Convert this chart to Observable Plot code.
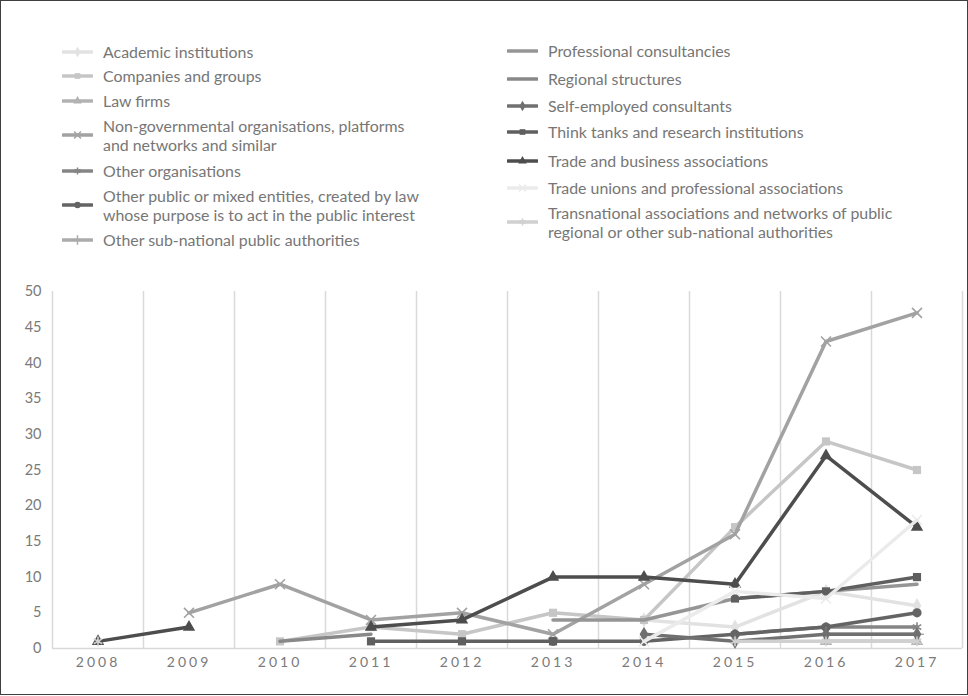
<!DOCTYPE html>
<html>
<head>
<meta charset="utf-8">
<script src="https://cdn.jsdelivr.net/npm/d3@7"></script>
<script src="https://cdn.jsdelivr.net/npm/@observablehq/plot@0.6"></script>
<style>
  html, body { margin: 0; padding: 0; background: #fff; }
  #frame { position: relative; width: 966px; height: 693px; border: 1px solid #3f3f3f; background: #fff; overflow: hidden; font-family: Lato, "Open Sans", sans-serif; }
  #legend { position: relative; height: 269px; }
  .item { position: absolute; display: flex; align-items: center; }
  .item svg { flex: none; }
  .item span { color: #767676; font-size: 15.9px; line-height: 19.5px; margin-left: 10px; white-space: nowrap; }
  #chart svg g[aria-label="x-axis tick label"] text { letter-spacing: 3px; }
</style>
</head>
<body>
<div id="frame">
  <div id="legend"></div>
  <div id="chart"></div>
</div>
<script>
// ---------- data ----------
const years = [2008, 2009, 2010, 2011, 2012, 2013, 2014, 2015, 2016, 2017];
const yTicks = [0, 5, 10, 15, 20, 25, 30, 35, 40, 45, 50];

const seriesNames = [
  "Academic institutions",
  "Companies and groups",
  "Law firms",
  "Non-governmental organisations, platforms and networks and similar",
  "Other organisations",
  "Other public or mixed entities, created by law whose purpose is to act in the public interest",
  "Other sub-national public authorities",
  "Professional consultancies",
  "Regional structures",
  "Self-employed consultants",
  "Think tanks and research institutions",
  "Trade and business associations",
  "Trade unions and professional associations",
  "Transnational associations and networks of public regional or other sub-national authorities"
];

const academic         = [null, null, null, null, null, null, 4, 3, 8, 6];
const companies        = [null, null, 1, 3, 2, 5, 4, 17, 29, 25];
const lawFirms         = [null, null, null, null, null, null, null, null, 1, 1];
const ngos             = [null, 5, 9, 4, 5, 2, 9, 16, 43, 47];
const otherOrgs        = [null, null, null, null, null, null, null, 2, 3, 3];
const otherPublic      = [null, null, null, null, null, 1, 1, 2, 3, 5];
const otherSubnational = [null, null, null, null, null, null, null, null, 2, 2];
const professional     = [null, null, null, null, null, 4, 4, 7, 8, 9];
const regional         = [null, null, 1, 2, null, null, null, null, null, null];
const selfEmployed     = [null, null, null, null, null, null, 2, 1, 2, 2];
const thinkTanks       = [null, null, null, 1, 1, 1, null, 7, 8, 10];
const tradeBusiness    = [1, 3, null, 3, 4, 10, 10, 9, 27, 17];
const tradeUnions      = [null, null, null, null, null, null, 1, 8, 7, 18];
const transnational    = [1, null, null, null, null, null, null, 1, 1, 1];

const seriesValues = [academic, companies, lawFirms, ngos, otherOrgs, otherPublic, otherSubnational,
  professional, regional, selfEmployed, thinkTanks, tradeBusiness, tradeUnions, transnational];

// ---------- styles ----------
const colors = ["#e2e2e2", "#c6c6c6", "#b2b2b2", "#a2a2a2", "#858585", "#646464", "#ababab",
  "#959595", "#888888", "#707070", "#5f5f5f", "#4d4d4d", "#ebebeb", "#d0d0d0"];
const symbols = ["diamond", "square", "triangle", "times", "asterisk", "circle", "plus",
  null, null, "diamond", "square", "triangle", "times", "asterisk"];
const strokeSymbols = new Set(["times", "plus", "asterisk"]);

// legend layout (label lines, column, vertical centre of icon/text)
const legendLabels = [
  ["Academic institutions"],
  ["Companies and groups"],
  ["Law firms"],
  ["Non-governmental organisations, platforms", "and networks and similar"],
  ["Other organisations"],
  ["Other public or mixed entities, created by law", "whose purpose is to act in the public interest"],
  ["Other sub-national public authorities"],
  ["Professional consultancies"],
  ["Regional structures"],
  ["Self-employed consultants"],
  ["Think tanks and research institutions"],
  ["Trade and business associations"],
  ["Trade unions and professional associations"],
  ["Transnational associations and networks of public", "regional or other sub-national authorities"]
];
const legendCenters = [52, 76, 101, 135, 171, 205, 240, 51, 79, 106, 132, 161, 188, 222];
const legendLeft = [62, 62, 62, 62, 62, 62, 62, 507, 507, 507, 507, 507, 507, 507];

// ---------- legend ----------
const d3Symbols = { circle: d3.symbolCircle, square: d3.symbolSquare, diamond: d3.symbolDiamond,
  triangle: d3.symbolTriangle, times: d3.symbolTimes, plus: d3.symbolPlus, asterisk: d3.symbolAsterisk };
const legend = document.getElementById("legend");
seriesNames.forEach((name, i) => {
  const item = document.createElement("div");
  item.className = "item";
  const lines = legendLabels[i];
  const h = lines.length * 19.5;
  item.style.left = (legendLeft[i] - 1) + "px";
  item.style.top = (legendCenters[i] - 1 - h / 2) + "px";
  item.style.height = h + "px";
  const ns = "http://www.w3.org/2000/svg";
  const svg = document.createElementNS(ns, "svg");
  svg.setAttribute("width", 31); svg.setAttribute("height", 14);
  const ln = document.createElementNS(ns, "line");
  ln.setAttribute("x1", 1); ln.setAttribute("x2", 30); ln.setAttribute("y1", 7); ln.setAttribute("y2", 7);
  ln.setAttribute("stroke", colors[i]); ln.setAttribute("stroke-width", 3.5); ln.setAttribute("stroke-linecap", "round");
  svg.appendChild(ln);
  if (symbols[i]) {
    const p = document.createElementNS(ns, "path");
    p.setAttribute("d", d3.symbol(d3Symbols[symbols[i]], 3.2 * 3.2 * Math.PI)());
    p.setAttribute("transform", "translate(15.5,7)");
    if (strokeSymbols.has(symbols[i])) { p.setAttribute("fill", "none"); p.setAttribute("stroke", colors[i]); p.setAttribute("stroke-width", 1.5); }
    else p.setAttribute("fill", colors[i]);
    svg.appendChild(p);
  }
  item.appendChild(svg);
  const span = document.createElement("span");
  span.innerHTML = lines.join("<br>");
  item.appendChild(span);
  item.title = name;
  legend.appendChild(item);
});

// ---------- chart ----------
const rows = [];
seriesNames.forEach((name, i) => years.forEach((yr, j) => rows.push({ series: name, idx: i, year: yr, value: seriesValues[i][j] })));
const bounds = [years[0] - 0.5, ...years.map(y => y + 0.5)];

const marks = [
  Plot.ruleX(bounds, { x: d => d, y1: yTicks[0], y2: yTicks[yTicks.length - 1], stroke: "#d9d9d9", strokeWidth: 1.5 }),
  Plot.ruleY([0], { stroke: "#d9d9d9", strokeWidth: 1.5 }),
  Plot.axisY({ ticks: yTicks, tickSize: 0, tickPadding: 11, fontSize: 14.5, fill: "#7a7a7a", label: null }),
  Plot.axisX({ ticks: years, tickFormat: d => String(d), tickSize: 0, tickPadding: 9, fontSize: 14, fill: "#7a7a7a", label: null })
];
seriesNames.forEach((name, i) => {
  const data = rows.filter(r => r.idx === i);
  marks.push(Plot.line(data, { x: "year", y: "value", stroke: colors[i], strokeWidth: 3.5, strokeLinejoin: "round", strokeLinecap: "round" }));
  if (symbols[i]) {
    const sym = symbols[i];
    const opts = { x: "year", y: "value", symbol: sym, r: 4.6 };
    if (strokeSymbols.has(sym)) { opts.stroke = colors[i]; opts.strokeWidth = 1.6; opts.fill = "none"; }
    else { opts.fill = colors[i]; opts.stroke = "none"; }
    marks.push(Plot.dot(data, opts));
  }
});

const chart = Plot.plot({
  width: 966,
  height: 424,
  marginTop: 21,
  marginBottom: 46,
  marginLeft: 51,
  marginRight: 5,
  style: { fontFamily: "Lato, 'Open Sans', sans-serif", background: "#fff", overflow: "visible" },
  x: { type: "linear", domain: [years[0] - 0.5, years[years.length - 1] + 0.5] },
  y: { domain: [yTicks[0], yTicks[yTicks.length - 1]] },
  marks
});
document.getElementById("chart").appendChild(chart);
</script>
</body>
</html>
